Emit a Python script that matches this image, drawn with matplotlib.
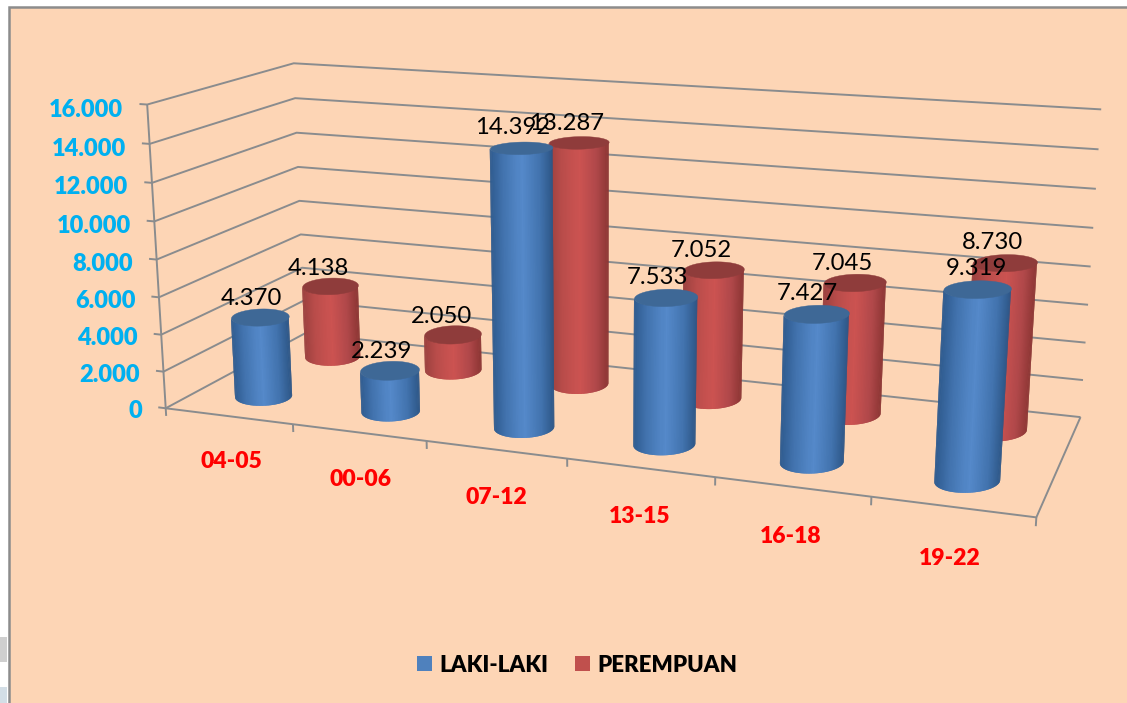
import numpy as np
import matplotlib
matplotlib.use("Agg")
import matplotlib.pyplot as plt
from matplotlib.colors import LinearSegmentedColormap
from matplotlib.patches import Patch, Rectangle
from mpl_toolkits.mplot3d.art3d import Poly3DCollection, Line3DCollection

plt.rcParams['font.family'] = ['Lato', 'DejaVu Sans']

categories = ['04-05', '00-06', '07-12', '13-15', '16-18', '19-22']
laki = [4370, 2239, 14392, 7533, 7427, 9319]
perempuan = [4138, 2050, 13287, 7052, 7045, 8730]
y_ticks = [0, 2000, 4000, 6000, 8000, 10000, 12000, 14000, 16000]

W, H = 1127, 703
BG = '#FDD5B5'
GRID = '#8A8C8E'

# box corners (category, depth, value) -> where they sit in the picture, used to fit the camera
box_3d = [(0, 0, 0), (0, 0, 16000), (0, 0, 14000), (0, 0, 12000),
          (0, 1, 0), (0, 1, 16000), (0, 1, 14000), (0, 1, 12000),
          (6, 1, 0), (6, 1, 16000), (6, 1, 12000), (6, 1, 8000),
          (6, 0, 0), (1, 0, 0), (2, 0, 0), (3, 0, 0), (4, 0, 0), (5, 0, 0)]
box_px = [(166.7, 408.3), (146.7, 104.3), (149, 144), (151, 183.3),
          (303, 333), (295, 63.3), (295.7, 98.3), (296.7, 132.7),
          (1080.7, 417.7), (1100.7, 109), (1096, 188.7), (1090.7, 266.7),
          (1036.7, 517.3), (294, 424.3), (427, 441), (567, 458.5), (715, 477), (871, 496.5)]


def fit_camera(pts, px):
    rows = []
    for (x, y, z), (u, v) in zip(pts, px):
        v = H - v
        z = z / 1000.0
        rows.append([x, y, z, 1, 0, 0, 0, 0, -u * x, -u * y, -u * z, -u])
        rows.append([0, 0, 0, 0, x, y, z, 1, -v * x, -v * y, -v * z, -v])
    _, _, vt = np.linalg.svd(np.array(rows, dtype=float))
    P = vt[-1].reshape(3, 4)
    P[:, 2] = P[:, 2] / 1000.0  # back to plain value units
    P = P / P[2].dot([3, 0.5, 8000, 1])
    return P


P = fit_camera(box_3d, box_px)

fig = plt.figure(figsize=(W / 100, H / 100), dpi=100, facecolor='white')

# panel and the bits of window around it
fig.add_artist(Rectangle((8.5 / W, -10 / H), (W + 10) / W, (H + 3) / H, transform=fig.transFigure,
                         facecolor=BG, edgecolor='#8C8C8C', linewidth=1.8, zorder=-5))
fig.add_artist(Rectangle((0, (H - 662) / H), 7 / W, 25 / H, transform=fig.transFigure,
                         facecolor='#CFCFCF', edgecolor='none', zorder=-5))
fig.add_artist(Rectangle((0, 0), 7 / W, 16 / H, transform=fig.transFigure,
                         facecolor='#D3DEE6', edgecolor='none', zorder=-5))

side = W / H
ax = fig.add_axes([0, (1 - side) / 2, 1, side], projection='3d', computed_zorder=False)
ax.set_axis_off()
ax.patch.set_visible(False)
ax.apply_aspect()


def get_proj():
    A = ax.transData.inverted().get_matrix()
    q = A @ P
    M = np.zeros((4, 4))
    M[0] = q[0]
    M[1] = q[1]
    M[2] = q[2] - np.array([0, 0, 0, 1.0])
    M[3] = q[2]
    return M


ax.get_proj = get_proj

n_cat = len(categories)
top = y_ticks[-1]


def to_px(x, y, z):
    u, v, w = P @ np.array([x, y, z, 1.0])
    return np.array([u / w, v / w])


def line(xs, ys, zs, lw=1.4, z=1):
    seg = Line3DCollection([list(zip(xs, ys, zs))], colors=GRID, linewidths=lw, zorder=z, capstyle='butt')
    ax.add_collection3d(seg, autolim=False)


def label(x, y, z, s, **kw):
    # texts go on the figure at the projected spot
    u, v = to_px(x, y, z)
    fig.text(u / W, v / H, s, ha=kw.pop('ha', 'center'), va='center', **kw)


def fmt(v):
    return f'{v:,}'.replace(',', '.')


# walls
for v in y_ticks:
    line([-0.06, 0, 0, n_cat], [0, 0, 1, 1], [v, v, v, v])
    label(-0.19, 0, v - 340, fmt(v), ha='right', color='#00B0F0', fontsize=17, fontweight='heavy')
line([0, 0], [0, 0], [0, top])

# floor
line([0, n_cat, n_cat], [0, 0, 1], [0, 0, 0])
for i in range(n_cat + 1):
    line([i, i], [0, 0], [0, -420])
for i, c in enumerate(categories):
    label(i + 0.5, 0, -2500, c, color='#FF0000', fontsize=16.5, fontweight='heavy')

blue_cm = LinearSegmentedColormap.from_list('b', [(0, '#2E5A8E'), (0.22, '#4273AE'), (0.5, '#5589CA'),
                                                  (0.78, '#4273AE'), (1, '#2C5585')])
red_cm = LinearSegmentedColormap.from_list('r', [(0, '#9A403E'), (0.22, '#B84C4A'), (0.5, '#CC5351'),
                                                 (0.78, '#B0484A'), (1, '#8A3432')])
FLAT = 0.31


def cylinder(cx, cy, value, cmap, top_color, z):
    # floor outline chosen so the ellipse sits level on screen, like the original
    p0 = to_px(cx, cy, 0)
    J = np.column_stack([to_px(cx + 1, cy, 0) - p0, to_px(cx, cy + 1, 0) - p0])
    Ji = np.linalg.inv(J)
    a = 11 + 0.137 * J[0, 0]
    b = FLAT * a

    def outline(t):
        d = Ji @ np.array([a * np.cos(t), b * np.sin(t)])
        return cx + d[0], cy + d[1]

    t = np.linspace(np.pi, 2 * np.pi, 61)
    xs, ys = outline(t)
    # each strip runs over its neighbour so no seams show between them
    strips = []
    for k in range(len(t) - 1):
        k2 = min(k + 2, len(t) - 1)
        strips.append([(xs[k], ys[k], 0), (xs[k2], ys[k2], 0), (xs[k2], ys[k2], value), (xs[k], ys[k], value)])
    fc = cmap((1 + np.cos(t[:-1])) / 2)
    ax.add_collection3d(Poly3DCollection(strips, facecolors=fc, edgecolors='none', linewidths=0, zorder=z),
                        autolim=False)
    rx, ry = outline(np.linspace(0, 2 * np.pi, 121))
    cap = list(zip(rx, ry, np.full_like(rx, value, dtype=float)))
    ax.add_collection3d(Poly3DCollection([cap], facecolors=top_color, edgecolors=top_color, linewidths=0.3,
                                         zorder=z + 0.5), autolim=False)


DEPTH_LAKI, DEPTH_PER = 0.24, 0.76
for i in range(n_cat):
    cylinder(i + 0.5, DEPTH_PER, perempuan[i], red_cm, '#8F3C3B', 5 + i)
for i in range(n_cat):
    cylinder(i + 0.5, DEPTH_LAKI, laki[i], blue_cm, '#3E6896', 12 + i)

label_dx = [0, 0, 0, 0, 0, 0.05]
for i in range(n_cat):
    label(i + 0.41, DEPTH_PER, perempuan[i] + 950, fmt(perempuan[i]), color='black', fontsize=17.2)
    label(i + 0.44 + label_dx[i], DEPTH_LAKI, laki[i] + 950, fmt(laki[i]), color='black', fontsize=17.2)

handles = [Patch(facecolor='#4F81BD', label='LAKI-LAKI'), Patch(facecolor='#C0504D', label='PEREMPUAN')]
fig.legend(handles=handles, loc='center', bbox_to_anchor=(577 / W, (H - 665) / H), ncol=2, frameon=False,
           prop={'size': 16, 'weight': 'heavy'}, handlelength=0.68, handleheight=0.68,
           handletextpad=0.33, columnspacing=1.2)

fig.savefig('out.png', dpi=100, facecolor='white')
